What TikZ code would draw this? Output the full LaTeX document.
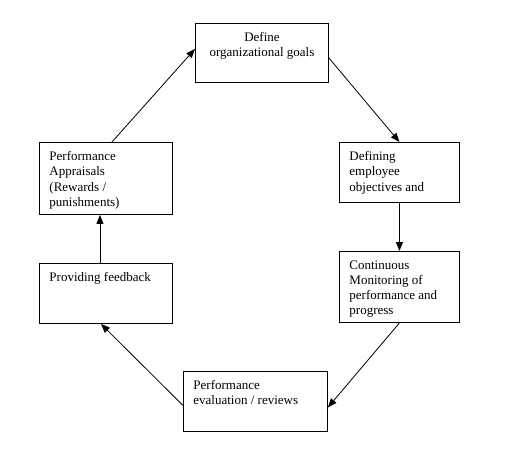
\documentclass[tikz,border=0pt]{standalone}
\usepackage{fontspec}
\setmainfont{Liberation Serif}
\usetikzlibrary{arrows.meta}

\newcommand{\stagetext}[3]{\parbox[t][#2][t]{#1}{\raggedright #3}}
\newcommand{\stagemid}[3]{\parbox[t][#2][t]{#1}{\centering #3}}

\begin{document}
\begin{tikzpicture}[x=1pt, y=-1pt,
  stage/.style={draw, line width=0.9pt, anchor=north west, inner xsep=10pt, inner ysep=9pt,
    font=\fontsize{13}{15.3}\selectfont},
  flow/.style={-{Triangle[length=9pt,width=7pt]}, line width=0.8pt}]
\useasboundingbox (0,0) rectangle (507,469);
%
   \node [stage] at (195,23) (goals) {\stagemid{113pt}{41pt}{Define\\organizational goals}};
     \node [stage] at (339,142) (obj) {\stagetext{100pt}{42pt}{Defining\\employee\\objectives and}};
     \node [stage] at (339,251) (mon) {\stagetext{100pt}{53pt}{Continuous\\Monitoring of\\performance and\\progress}};
   \node [stage] at (183,371) (eval) {\stagetext{124pt}{42pt}{Performance\\evaluation / reviews}};
 \node [stage] at (39,263) (feed) {\stagetext{113pt}{42pt}{Providing feedback}};
 \node [stage] at (39,142) (appr) {\stagetext{113pt}{54pt}{Performance\\Appraisals\\(Rewards /\\punishments)}};
%
\draw[flow] ([xshift=6pt]appr.north) -- ([yshift=4pt]goals.west);
\draw[flow] ([yshift=-5pt]goals.east) -- (obj.north);
\draw[flow] (obj) -- (mon);
\draw[flow] (mon.south) -- ([yshift=-6pt]eval.east);
\draw[flow] ([yshift=-4pt]eval.west) -- ([xshift=-5pt]feed.south);
\draw[flow] ([xshift=-6pt]feed.north) -- ([xshift=-6pt]appr.south);
\end{tikzpicture}
\end{document}
